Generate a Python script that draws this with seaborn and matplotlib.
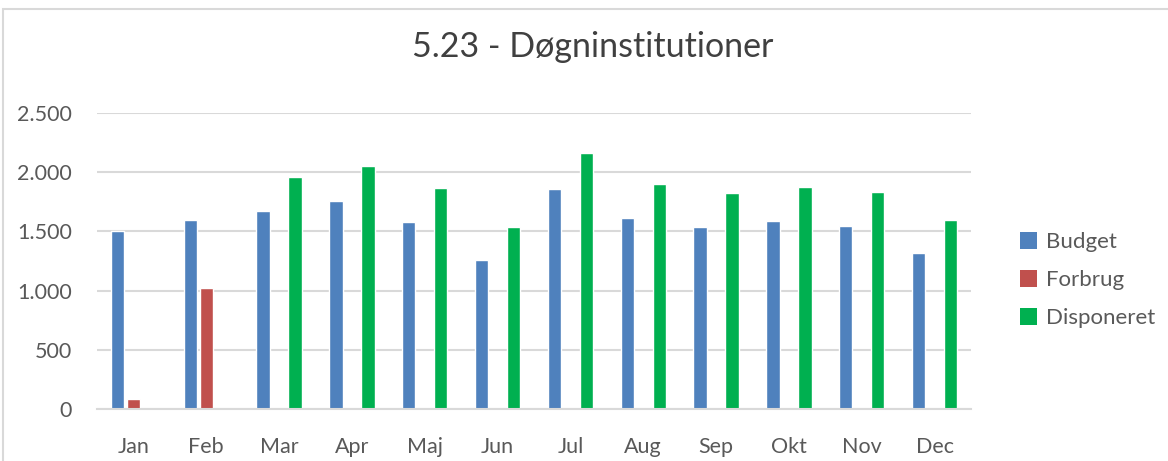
import matplotlib
matplotlib.use("Agg")
import matplotlib.pyplot as plt
import seaborn as sns
import pandas as pd
import numpy as np
from matplotlib.patches import Rectangle, Patch

months = ["Jan", "Feb", "Mar", "Apr", "Maj", "Jun", "Jul", "Aug", "Sep", "Okt", "Nov", "Dec"]
budget = [1500, 1600, 1675, 1760, 1580, 1260, 1860, 1615, 1540, 1590, 1547, 1320]
forbrug = [85, 1023, None, None, None, None, None, None, None, None, None, None]
disponeret = [None, None, 1962, 2055, 1868, 1540, 2165, 1902, 1826, 1877, 1835, 1598]
series = ["Budget", "Forbrug", "Disponeret"]
colors = ["#4F81BD", "#C0504D", "#00B050"]
title = "5.23 - Døgninstitutioner"
yticks = [0, 500, 1000, 1500, 2000, 2500]
ytick_labels = ["0", "500", "1.000", "1.500", "2.000", "2.500"]

rows = []
for name, vals in zip(series, [budget, forbrug, disponeret]):
    for m, v in zip(months, vals):
        if v is not None:
            rows.append({"Måned": m, "Serie": name, "Værdi": v})
df = pd.DataFrame(rows)

sns.set_theme(style="white")
plt.rcParams["font.family"] = ["Lato", "DejaVu Sans"]

fig = plt.figure(figsize=(11.68, 4.61), dpi=100)
ax = fig.add_axes([97 / 1168, 1 - 409 / 461, (971 - 97) / 1168, (409 - 113) / 461])

sns.barplot(data=df, x="Måned", y="Værdi", hue="Serie", order=months, hue_order=series,
            palette=colors, width=0.66, gap=0.17, ax=ax, legend=False, saturation=1)

ax.set_ylim(0, 2500)
ax.set_xlim(-0.5, 11.5)
ax.set_yticks(yticks)
ax.set_yticklabels(ytick_labels)
ax.grid(axis="y", color="#D9D9D9", linewidth=1.5)
ax.set_axisbelow(True)
for s in ["left", "right", "top"]:
    ax.spines[s].set_visible(False)
ax.spines["bottom"].set_color("#D9D9D9")
ax.spines["bottom"].set_linewidth(1.5)
ax.set_xlabel("")
ax.set_ylabel("")
ax.tick_params(axis="y", length=0, pad=18, labelsize=15.5, labelcolor="#595959")
ax.tick_params(axis="x", length=0, pad=20, labelsize=15.5, labelcolor="#595959")

fig.text(593 / 1168, 1 - 47 / 461, title, ha="center", va="center", fontsize=24.5, color="#404040")

handles = [Patch(facecolor=c, edgecolor="none") for c in colors]
leg = fig.legend(handles, series, loc="center left", bbox_to_anchor=(1000 / 1168, 1 - 280 / 461),
                 frameon=False, fontsize=16, labelspacing=0.8, handlelength=0.78, handleheight=0.78,
                 handletextpad=0.4, labelcolor="#595959")

fig.patches.append(Rectangle((3 / 1168, -0.1), 1.2, 1.1 - 9 / 461, transform=fig.transFigure,
                             fill=False, edgecolor="#D9D9D9", linewidth=1.5))

fig.savefig("out.png", dpi=100)
